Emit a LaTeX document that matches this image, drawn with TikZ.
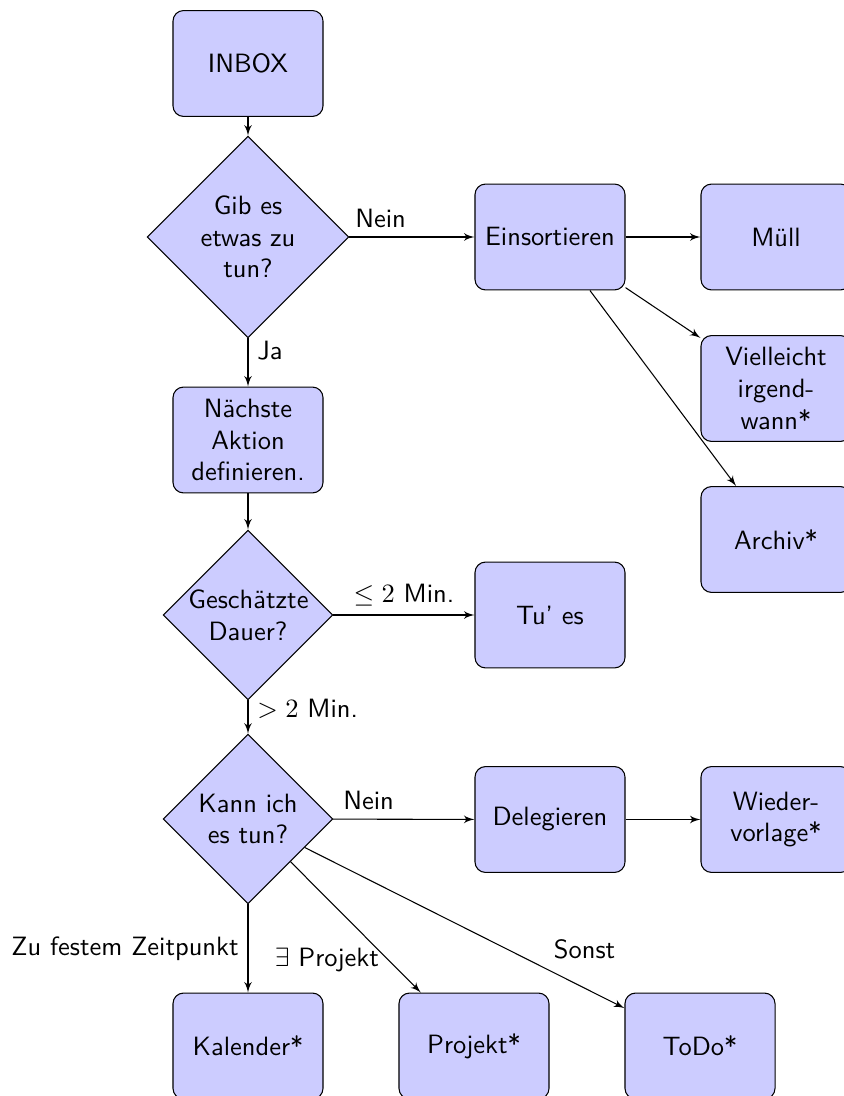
\documentclass[tikz,border=0pt]{standalone}
\usepackage{fontspec}
\usetikzlibrary{shapes.geometric,arrows}
\begin{document}
\begin{tikzpicture}[x=0.013274cm,y=-0.013274cm, font=\sffamily,
  block/.style={rectangle, draw, fill=blue!20, text width=5em, align=center, rounded corners, minimum height=4em},
  decision/.style={diamond, draw, fill=blue!20, text width=4.5em, align=center, inner sep=0pt},
  line/.style={draw, -latex'}]
\useasboundingbox (0,0) rectangle (843,1096);
% nodes
\node[block] (inbox) at (248,63.5) {INBOX};
\node[decision] (dec1) at (248,237) {Gib es\\etwas zu\\tun?};
\node[block] (einsort) at (550,237) {Einsortieren};
\node[block] (muell) at (776,237) {Müll};
\node[block] (vielleicht) at (776,388.5) {Vielleicht\\irgend-\\wann*};
\node[block] (archiv) at (776,539.5) {Archiv*};
\node[block] (naechste) at (248,440) {Nächste\\Aktion\\definieren.};
\node[decision] (dec2) at (248,615) {Geschätzte\\Dauer?};
\node[block] (tues) at (550,615) {Tu' es};
\node[decision] (dec3) at (248,819) {Kann ich\\es tun?};
\node[block] (deleg) at (550,819.5) {Delegieren};
\node[block] (wieder) at (776,819.5) {Wieder-\\vorlage*};
\node[block] (kalender) at (248,1046) {Kalender*};
\node[block] (projekt) at (474,1046) {Projekt*};
\node[block] (todo) at (700,1046) {ToDo*};
% connectors
\path[line] (inbox) -- (dec1);
\path[line] (dec1) -- node[near start, above] {Nein} (einsort);
\path[line] (dec1) -- node[near start, right] {Ja} (naechste);
\path[line] (einsort) -- (muell);
\path[line] (einsort) -- (vielleicht);
\path[line] (einsort) -- (archiv);
\path[line] (naechste) -- (dec2);
\path[line] (dec2) -- node[midway, above] {$\leq 2$ Min.} (tues);
\path[line] (dec2) -- node[near start, right] {$> 2$ Min.} (dec3);
\path[line] (dec3) -- node[near start, above] {Nein} (deleg);
\path[line] (deleg) -- (wieder);
\path[line] (dec3) -- node[midway, left] {Zu festem Zeitpunkt} (kalender);
\path[line] (dec3) -- node[near end, left] {$\exists$ Projekt} (projekt);
\path[line] (dec3) -- node[near end, above right] {Sonst} (todo);
\end{tikzpicture}
\end{document}
